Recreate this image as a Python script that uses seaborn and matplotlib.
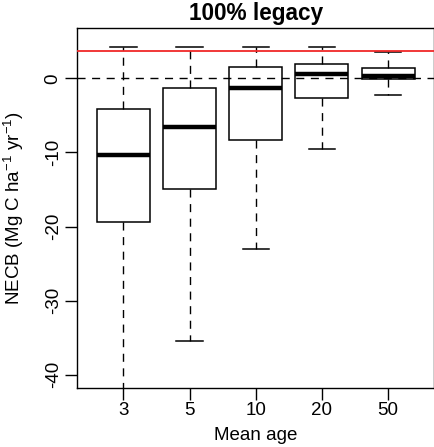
import numpy as np
import pandas as pd
import matplotlib
matplotlib.use("Agg")
import matplotlib.pyplot as plt
import seaborn as sns

# ---- data ----
ages = ["3", "5", "10", "20", "50"]
whisker_low = [-46.0, -35.4, -23.0, -9.6, -2.3]
q1 = [-19.4, -14.9, -8.3, -2.66, -0.05]
median = [-10.3, -6.6, -1.26, 0.55, 0.35]
q3 = [-4.19, -1.35, 1.49, 1.92, 1.45]
whisker_high = [4.2, 4.2, 4.2, 4.2, 3.56]
reference_value = 3.69
ytick_values = [-40, -30, -20, -10, 0]
ytick_labels = ["-40", "-30", "-20", "-10", "0"]
title = "100% legacy"
xlabel = "Mean age"
ylabel = r"NECB (Mg C ha$^{-1}$ yr$^{-1}$)"

rows = []
for i, a in enumerate(ages):
    for v in (whisker_low[i], q1[i], median[i], q3[i], whisker_high[i]):
        rows.append({"age": a, "necb": v})
df = pd.DataFrame(rows)

plt.rcParams["font.family"] = ["Liberation Sans", "DejaVu Sans"]
plt.rcParams["mathtext.fontset"] = "custom"
plt.rcParams["mathtext.rm"] = "Liberation Sans"
plt.rcParams["mathtext.it"] = "Liberation Sans:italic"
plt.rcParams["mathtext.bf"] = "Liberation Sans:bold"
plt.rcParams["axes.unicode_minus"] = False

fs = 13.5
fig = plt.figure(figsize=(4.35, 4.47), dpi=100)
ax = fig.add_axes([77 / 435, 59 / 447, (434.5 - 77) / 435, (388 - 28) / 447])

dash = (0, (5.8, 4.7))
sns.boxplot(
    data=df, x="age", y="necb", order=ages, ax=ax,
    whis=(0, 100), width=0.8, color="white", linecolor="black",
    linewidth=1.1, fliersize=0,
    medianprops=dict(linewidth=3.2),
    whiskerprops=dict(linestyle=dash, linewidth=1.0),
    capprops=dict(linewidth=1.1),
)

ax.axhline(0, color="black", linestyle=dash, linewidth=1.0, zorder=4)
ax.axhline(reference_value, color="#F02828", linewidth=1.3, zorder=5)

ax.set_ylim(-41.8, 6.8)
ax.set_xlim(-0.7, 4.7)
ax.set_yticks(ytick_values)
ax.set_yticklabels(ytick_labels)
for lbl in ax.get_yticklabels():
    lbl.set_rotation(90)
    lbl.set_va("center")
ax.tick_params(direction="out", length=8.5, width=1.0, labelsize=fs, color="black")
ax.tick_params(axis="y", pad=2.5)
ax.tick_params(axis="x", pad=1.5)

for s in ax.spines.values():
    s.set_visible(True)
    s.set_linewidth(1.0)
    s.set_color("black")

ax.set_xlabel(xlabel, fontsize=fs, va="baseline")
ax.xaxis.set_label_coords(0.5, (388 - 440) / 360)
ax.set_ylabel(ylabel, fontsize=fs, va="center")
ax.yaxis.set_label_coords((14 - 77) / 357.5, 0.5)
ax.set_title(title, fontsize=16.3, fontweight="bold", y=(388 - 20) / 360, pad=0, va="baseline")

fig.savefig("out.png", dpi=100)
